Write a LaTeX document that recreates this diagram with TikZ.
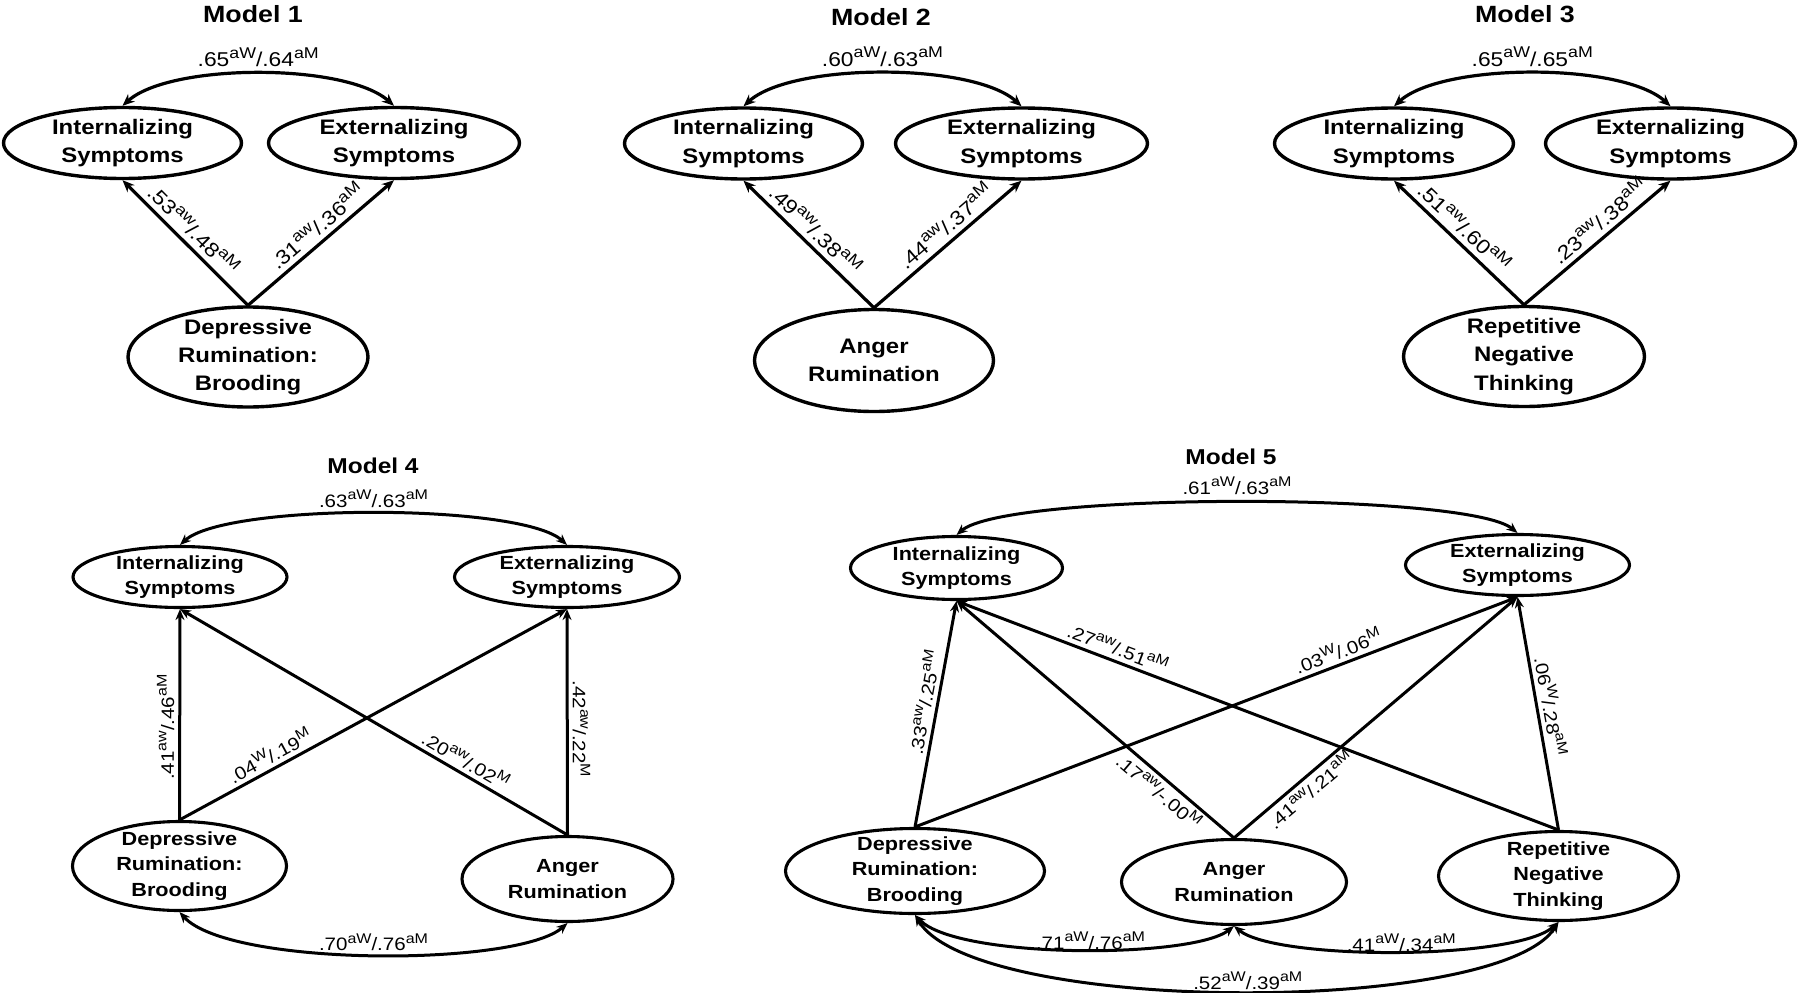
\documentclass[tikz,border=0pt]{standalone}
\usepackage{graphicx}
\usepackage{fontspec}
\setmainfont{Liberation Sans}[FakeStretch=1.14]
\usetikzlibrary{shapes.geometric,arrows.meta,calc}
\newcommand{\spr}[1]{\raisebox{0.42em}{\scalebox{0.78}{#1}}}
\tikzset{
  ell/.style={draw, ellipse, inner sep=-6pt, align=center},
  etop/.style={ell, line width=3.4pt, font=\bfseries\fontsize{21}{28.2}\selectfont},
  ebot/.style={ell, line width=3.1pt, font=\bfseries\fontsize{19}{25.5}\selectfont},
  ttl/.style={font=\bfseries\fontsize{23.5}{28}\selectfont, anchor=base, inner sep=0pt},
  ttlb/.style={font=\bfseries\fontsize{21.5}{26}\selectfont, anchor=base, inner sep=0pt},
  ltop/.style={font=\fontsize{20}{24}\selectfont, inner sep=2pt},
  lbot/.style={font=\fontsize{18}{22}\selectfont, inner sep=2pt},
  atop/.style={line width=3.2pt, -{Stealth[length=12pt,width=10pt]}},
  abot/.style={line width=3pt, -{Stealth[length=11pt,width=9pt]}},
  abotr/.style={line width=3pt, {Stealth[length=11pt,width=9pt]}-},
  dtop/.style={line width=3.2pt, {Stealth[length=12pt,width=10pt]}-{Stealth[length=12pt,width=10pt]}},
  dbot/.style={line width=3pt, {Stealth[length=11pt,width=9pt]}-{Stealth[length=11pt,width=9pt]}},
}
\begin{document}
\begin{tikzpicture}[x=1pt,y=-1pt]
\useasboundingbox (0,0) rectangle (1800,993);

% ---------------- Model 1 ----------------
\node[ttl] (t1) at (253,22) {Model 1};
\node[etop, minimum width=238pt, minimum height=71pt] (i1) at (122.5,143) {Internalizing\\Symptoms};
\node[etop, minimum width=251pt, minimum height=71pt] (e1) at (394,143) {Externalizing\\Symptoms};
\node[etop, minimum width=240pt, minimum height=100pt] (d1) at (248,357) {Depressive\\Rumination:\\Brooding};
\draw[dtop] (i1.north) .. controls ($(i1.north)+(48,-43)$) and ($(e1.north)+(-48,-43)$) .. (e1.north)
  node[ltop, pos=.5, anchor=base, yshift=7pt] (l1a) {.65\spr{aW}/.64\spr{aM}};
\draw[atop] (d1.north) -- (i1.south) node[ltop, sloped, above=3pt, pos=.52] (l1b) {.53\spr{aw}/.48\spr{aM}};
\draw[atop] (d1.north) -- (e1.south) node[ltop, sloped, above=3pt, pos=.54] (l1c) {.31\spr{aw}/.36\spr{aM}};

% ---------------- Model 2 ----------------
\node[ttl] (t2) at (881,25) {Model 2};
\node[etop, minimum width=238pt, minimum height=71pt] (i2) at (743.5,143.5) {Internalizing\\Symptoms};
\node[etop, minimum width=252pt, minimum height=71pt] (e2) at (1021.5,143.5) {Externalizing\\Symptoms};
\node[etop, minimum width=239pt, minimum height=102pt] (a2) at (874,360.5) {Anger\\Rumination};
\draw[dtop] (i2.north) .. controls ($(i2.north)+(48,-44)$) and ($(e2.north)+(-48,-44)$) .. (e2.north)
  node[ltop, pos=.5, anchor=base, yshift=7pt] (l2a) {.60\spr{aW}/.63\spr{aM}};
\draw[atop] (a2.north) -- (i2.south) node[ltop, sloped, above=3pt, pos=.53] (l2b) {.49\spr{aw}/.38\spr{aM}};
\draw[atop] (a2.north) -- (e2.south) node[ltop, sloped, above=3pt, pos=.55] (l2c) {.44\spr{aw}/.37\spr{aM}};

% ---------------- Model 3 ----------------
\node[ttl] (t3) at (1525,22) {Model 3};
\node[etop, minimum width=239pt, minimum height=71pt] (i3) at (1394,143.5) {Internalizing\\Symptoms};
\node[etop, minimum width=250pt, minimum height=71pt] (e3) at (1670.5,143.5) {Externalizing\\Symptoms};
\node[etop, minimum width=241pt, minimum height=100pt] (r3) at (1524,356.5) {Repetitive\\Negative\\Thinking};
\draw[dtop] (i3.north) .. controls ($(i3.north)+(48,-44)$) and ($(e3.north)+(-48,-44)$) .. (e3.north)
  node[ltop, pos=.5, anchor=base, yshift=7pt] (l3a) {.65\spr{aW}/.65\spr{aM}};
\draw[atop] (r3.north) -- (i3.south) node[ltop, sloped, above=3pt, pos=.54] (l3b) {.51\spr{aw}/.60\spr{aM}};
\draw[atop] (r3.north) -- (e3.south) node[ltop, sloped, above=3pt, pos=.58] (l3c) {.23\spr{aw}/.38\spr{aM}};

% ---------------- Model 4 ----------------
\node[ttlb] (t4) at (373,473) {Model 4};
\node[ebot, minimum width=214pt, minimum height=61pt] (i4) at (180,577) {Internalizing\\Symptoms};
\node[ebot, minimum width=225pt, minimum height=61pt] (e4) at (567,577) {Externalizing\\Symptoms};
\node[ebot, minimum width=214pt, minimum height=89pt] (d4) at (179.5,866) {Depressive\\Rumination:\\Brooding};
\node[ebot, minimum width=211pt, minimum height=85pt] (a4) at (567.5,879) {Anger\\Rumination};
\draw[dbot] (i4.north) .. controls ($(i4.north)+(46,-42)$) and ($(e4.north)+(-46,-42)$) .. (e4.north)
  node[lbot, pos=.5, anchor=base, yshift=6pt] (l4a) {.63\spr{aW}/.63\spr{aM}};
\draw[dbot] (d4.south) .. controls ($(d4.south)+(50,55)$) and ($(a4.south)+(-50,44)$) .. (a4.south)
  node[lbot, pos=.5, anchor=base, yshift=4pt] (l4b) {.70\spr{aW}/.76\spr{aM}};
\draw[abot] (d4.north) -- (i4.south) node[lbot, sloped, above=2pt, pos=.44] (l4c) {.41\spr{aw}/.46\spr{aM}};
\draw[abotr] (e4.south) -- (a4.north) node[lbot, sloped, above=2pt, pos=.53] (l4d) {.42\spr{aw}/.22\spr{M}};
\draw[abot] (d4.north) -- (e4.south) node[lbot, sloped, above=2pt, pos=.25] (l4e) {.04\spr{W}/.19\spr{M}};
\draw[abot] (a4.north) -- (i4.south) node[lbot, sloped, above=2pt, pos=.28] (l4f) {.20\spr{aw}/.02\spr{M}};

% ---------------- Model 5 ----------------
\node[ttlb] (t5) at (1231,464) {Model 5};
\node[ebot, minimum width=212pt, minimum height=63pt] (i5) at (956.5,568) {Internalizing\\Symptoms};
\node[ebot, minimum width=224pt, minimum height=61pt] (e5) at (1517.5,565) {Externalizing\\Symptoms};
\node[ebot, minimum width=259pt, minimum height=85pt] (d5) at (915,871) {Depressive\\Rumination:\\Brooding};
\node[ebot, minimum width=225pt, minimum height=85pt] (a5) at (1234,882) {Anger\\Rumination};
\node[ebot, minimum width=240pt, minimum height=89pt] (r5) at (1558.5,876) {Repetitive\\Negative\\Thinking};
\draw[dbot] (i5.north) .. controls ($(i5.north)+(50,-43)$) and ($(e5.north)+(-50,-41)$) .. (e5.north)
  node[lbot, pos=.5, anchor=base, yshift=8pt] (l5a) {.61\spr{aW}/.63\spr{aM}};
\draw[dbot] (d5.south) .. controls ($(d5.south)+(42,44)$) and ($(a5.south)+(-42,33)$) .. (a5.south)
  node[lbot, pos=.5, anchor=base, xshift=16pt, yshift=0pt] (l5b) {.71\spr{aW}/.76\spr{aM}};
\draw[dbot] (a5.south) .. controls ($(a5.south)+(42,34.5)$) and ($(r5.south)+(-42,38.5)$) .. (r5.south)
  node[lbot, pos=.5, anchor=base, xshift=5pt, yshift=0pt] (l5c) {.41\spr{aW}/.34\spr{aM}};
\draw[dbot] (d5.south) .. controls ($(d5.south)+(60,100)$) and ($(r5.south)+(-60,94)$) .. (r5.south)
  node[lbot, pos=.5, anchor=base, xshift=11pt, yshift=2pt] (l5d) {.52\spr{aW}/.39\spr{aM}};
\draw[abot] (d5.north) -- (i5.south) node[lbot, sloped, above=2pt, pos=.54] (l5e) {.33\spr{aw}/.25\spr{aM}};
\draw[abot] (d5.north) -- (e5.south) node[lbot, sloped, above=2pt, pos=.71] (l5f) {.03\spr{W}/.06\spr{M}};
\draw[abot] (a5.north) -- (i5.south) node[lbot, sloped, below, pos=.24] (l5g) {.17\spr{aw}/-.00\spr{M}};
\draw[abot] (a5.north) -- (e5.south) node[lbot, sloped, below, pos=.24] (l5h) {.41\spr{aw}/.21\spr{aM}};
\draw[abot] (r5.north) -- (i5.south) node[lbot, sloped, above=2pt, pos=.74] (l5i) {.27\spr{aw}/.51\spr{aM}};
\draw[abot] (r5.north) -- (e5.south) node[lbot, sloped, above=2pt, pos=.52] (l5j) {.06\spr{W}/.28\spr{aM}};
\end{tikzpicture}
\end{document}
